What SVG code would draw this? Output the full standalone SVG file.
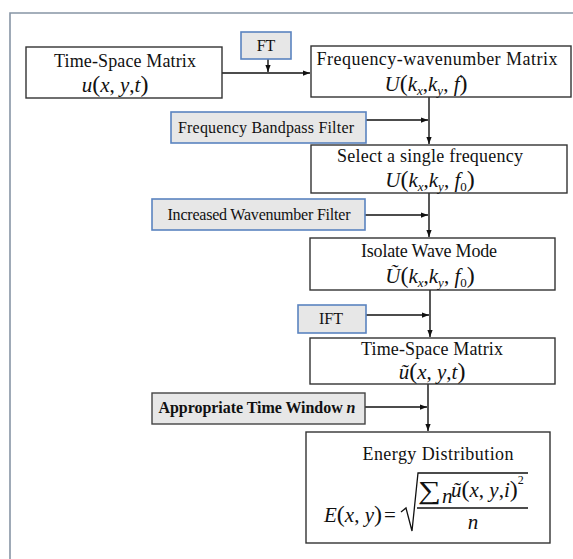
<svg xmlns="http://www.w3.org/2000/svg" width="573" height="559" viewBox="0 0 573 559">
<defs>
<marker id="ah" viewBox="0 0 8 8" refX="8" refY="4" markerWidth="7" markerHeight="7" markerUnits="userSpaceOnUse" orient="auto"><path d="M0,1 L8,4 L0,7z" fill="#111"/></marker>
<style>
.box{fill:#fff;stroke:#333;stroke-width:1.4}
.flt{fill:#e7e7e7;stroke:#5b84c0;stroke-width:1.6}
.flk{fill:#e7e7e7;stroke:#444;stroke-width:1.4}
.t{font-family:"Liberation Serif","Times New Roman",serif;font-size:18px;fill:#111}
.s{font-family:"Liberation Serif","Times New Roman",serif;font-size:16px;fill:#111}
.m{font-family:"Liberation Serif","Times New Roman",serif;font-size:21px;font-style:italic;fill:#111}
.n{font-style:normal}
.p{font-style:normal;font-size:24px}
.sb{font-size:13px}
.c line{stroke:#111;stroke-width:1.4;fill:none}
</style>
</defs>
<rect width="573" height="559" fill="#fff"/>
<path d="M10,559 V13 H573" fill="none" stroke="#8795a5" stroke-width="1.6"/>

<g class="c" id="connectors">
<line x1="222" y1="73" x2="310" y2="73" marker-end="url(#ah)"/>
<line x1="268" y1="59" x2="268" y2="72" marker-end="url(#ah)"/>
<line x1="429" y1="97" x2="429" y2="144" marker-end="url(#ah)"/>
<line x1="366" y1="120" x2="428" y2="120" marker-end="url(#ah)"/>
<line x1="429" y1="193" x2="429" y2="237" marker-end="url(#ah)"/>
<line x1="365" y1="215" x2="428" y2="215" marker-end="url(#ah)"/>
<line x1="430" y1="290" x2="430" y2="337" marker-end="url(#ah)"/>
<line x1="366" y1="315" x2="429" y2="315" marker-end="url(#ah)"/>
<line x1="428" y1="384" x2="428" y2="431" marker-end="url(#ah)"/>
<line x1="365" y1="407" x2="427" y2="407" marker-end="url(#ah)"/>
</g>

<g id="ts1">
<rect class="box" x="26" y="47" width="196" height="51"/>
<text class="t" x="125" y="67" text-anchor="middle" textLength="142">Time-Space Matrix</text>
<text class="m" x="115" y="92" text-anchor="middle">u<tspan class="p">(</tspan>x<tspan class="n">,</tspan> y<tspan class="n">,</tspan>t<tspan class="p">)</tspan></text>
</g>

<g id="ft">
<rect class="flt" x="241" y="32" width="50" height="27"/>
<text class="s" x="266" y="51" text-anchor="middle">FT</text>
</g>

<g id="fwm">
<rect class="box" x="311" y="46" width="260" height="51"/>
<text class="t" x="437" y="65" text-anchor="middle" textLength="241">Frequency-wavenumber Matrix</text>
<text class="m" x="426" y="91" text-anchor="middle">U<tspan class="p">(</tspan>k<tspan class="sb" dy="4">x</tspan><tspan class="n" dy="-4">,</tspan>k<tspan class="sb" dy="4">y</tspan><tspan class="n" dy="-4">, </tspan>f<tspan class="p">)</tspan></text>
</g>

<g id="fbf">
<rect class="flt" x="171" y="112" width="195" height="31"/>
<text class="s" x="266" y="133" text-anchor="middle" textLength="176">Frequency Bandpass Filter</text>
</g>

<g id="sel">
<rect class="box" x="311" y="145" width="256" height="48"/>
<text class="t" x="430" y="162" text-anchor="middle" textLength="186">Select a single frequency</text>
<text class="m" x="430" y="187" text-anchor="middle">U<tspan class="p">(</tspan>k<tspan class="sb" dy="4">x</tspan><tspan class="n" dy="-4">,</tspan>k<tspan class="sb" dy="4">y</tspan><tspan class="n" dy="-4">, </tspan>f<tspan class="sb n" dy="4">0</tspan><tspan class="p" dy="-4">)</tspan></text>
</g>

<g id="iwf">
<rect class="flt" x="152" y="199" width="213" height="31"/>
<text class="s" x="259" y="220" text-anchor="middle" textLength="183">Increased Wavenumber Filter</text>
</g>

<g id="iso">
<rect class="box" x="310" y="238" width="245" height="52"/>
<text class="t" x="429" y="257" text-anchor="middle" textLength="136">Isolate Wave Mode</text>
<text class="m" x="430" y="283" text-anchor="middle">Ũ<tspan class="p">(</tspan>k<tspan class="sb" dy="4">x</tspan><tspan class="n" dy="-4">,</tspan>k<tspan class="sb" dy="4">y</tspan><tspan class="n" dy="-4">, </tspan>f<tspan class="sb n" dy="4">0</tspan><tspan class="p" dy="-4">)</tspan></text>
</g>

<g id="ift">
<rect class="flt" x="298" y="305" width="68" height="28"/>
<text class="s" x="331" y="324" text-anchor="middle">IFT</text>
</g>

<g id="ts2">
<rect class="box" x="310" y="338" width="245" height="46"/>
<text class="t" x="432" y="355" text-anchor="middle" textLength="142">Time-Space Matrix</text>
<text class="m" x="432" y="379" text-anchor="middle">ũ<tspan class="p" font-size="22">(</tspan>x<tspan class="n">,</tspan> y<tspan class="n">,</tspan>t<tspan class="p" font-size="22">)</tspan></text>
</g>

<g id="atw">
<rect class="flk" x="152" y="393" width="213" height="31"/>
<text class="s" x="257" y="413" text-anchor="middle" font-weight="bold" textLength="197">Appropriate Time Window <tspan font-style="italic">n</tspan></text>
</g>

<g id="energy">
<rect class="box" x="306" y="432" width="244" height="111"/>
<text class="t" x="438" y="460" text-anchor="middle" textLength="151">Energy Distribution</text>
<text class="m" x="324" y="522" font-size="22">E<tspan class="p" font-size="26">(</tspan>x<tspan class="n">,</tspan> y<tspan class="p" font-size="26">)</tspan><tspan class="n" dx="2">=</tspan></text>
<path d="M401,512 L406,508 L412,531 L418,473 H528" fill="none" stroke="#111" stroke-width="1.3"/>
<text x="418" y="499" font-family="'Liberation Serif','DejaVu Serif',serif" font-size="26" fill="#111" textLength="23" lengthAdjust="spacingAndGlyphs">∑</text>
<text class="m" x="442" y="503" font-size="11">n</text>
<text class="m" x="451" y="497">ũ<tspan class="p">(</tspan>x<tspan class="n">,</tspan> y<tspan class="n">,</tspan>i<tspan class="p">)</tspan><tspan class="n" font-size="12" dy="-13">2</tspan></text>
<line x1="417" y1="508" x2="528" y2="508" stroke="#111" stroke-width="1.3"/>
<text class="m" x="473" y="529" text-anchor="middle">n</text>
</g>
</svg>
